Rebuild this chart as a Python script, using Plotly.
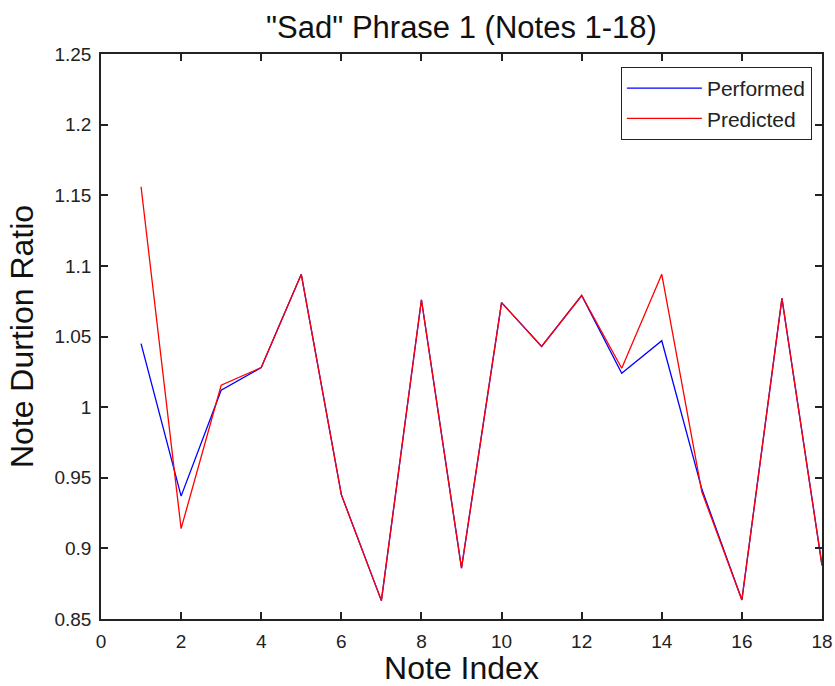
import plotly.graph_objects as go

note_index = list(range(1, 19))
performed = [1.045, 0.937, 1.012, 1.028, 1.094, 0.938, 0.863, 1.076, 0.886,
             1.074, 1.043, 1.079, 1.024, 1.047, 0.942, 0.8635, 1.077, 0.888]
predicted = [1.156, 0.914, 1.0155, 1.028, 1.094, 0.938, 0.863, 1.076, 0.886,
             1.074, 1.043, 1.079, 1.0275, 1.094, 0.940, 0.8635, 1.077, 0.888]
x_ticks = [0, 2, 4, 6, 8, 10, 12, 14, 16, 18]
y_ticks = [0.85, 0.9, 0.95, 1, 1.05, 1.1, 1.15, 1.2, 1.25]
y_tick_text = ["0.85", "0.9", "0.95", "1", "1.05", "1.1", "1.15", "1.2", "1.25"]

FONT = "Liberation Sans, Arial"

fig = go.Figure()
fig.add_trace(go.Scatter(x=note_index, y=performed, mode="lines", name="Performed",
                         line=dict(color="#0000ff", width=1.3)))
fig.add_trace(go.Scatter(x=note_index, y=predicted, mode="lines", name="Predicted",
                         line=dict(color="#ff0000", width=1.3)))

axis_common = dict(showgrid=False, zeroline=False, showline=True, linecolor="#222",
                   linewidth=1.5, mirror="ticks", ticks="inside", ticklen=7,
                   tickcolor="#222", tickwidth=1.5, ticklabelstandoff=4,
                   automargin=False,
                   tickfont=dict(family=FONT, size=19, color="#222"))

fig.update_layout(
    width=835, height=686,
    margin=dict(l=101, r=13, t=54, b=67),
    paper_bgcolor="white", plot_bgcolor="white",
    title=dict(text='"Sad" Phrase 1 (Notes 1-18)', x=0.5, xanchor="center",
               xref="paper", y=0.961, yanchor="middle",
               font=dict(family=FONT, size=31, color="#111")),
    xaxis=dict(range=[0, 18], tickvals=x_ticks,
               title=dict(text="Note Index", standoff=9,
                          font=dict(family=FONT, size=32, color="#111")),
               **axis_common),
    yaxis=dict(range=[0.85, 1.25], tickvals=y_ticks, ticktext=y_tick_text,
               title=dict(text="Note Durtion Ratio", standoff=11,
                          font=dict(family=FONT, size=32, color="#111")),
               **axis_common),
    legend=dict(x=0.986, y=0.977, xanchor="right", yanchor="top",
                bgcolor="white", bordercolor="#222", borderwidth=1,
                font=dict(family=FONT, size=21, color="#222"),
                itemwidth=75, tracegroupgap=0),
    showlegend=True,
)

# remove the browser's default 8px body margin so the figure fills the window
fig.write_html("out.html", config={"displayModeBar": False},
               post_script="document.body.style.margin='0';")
